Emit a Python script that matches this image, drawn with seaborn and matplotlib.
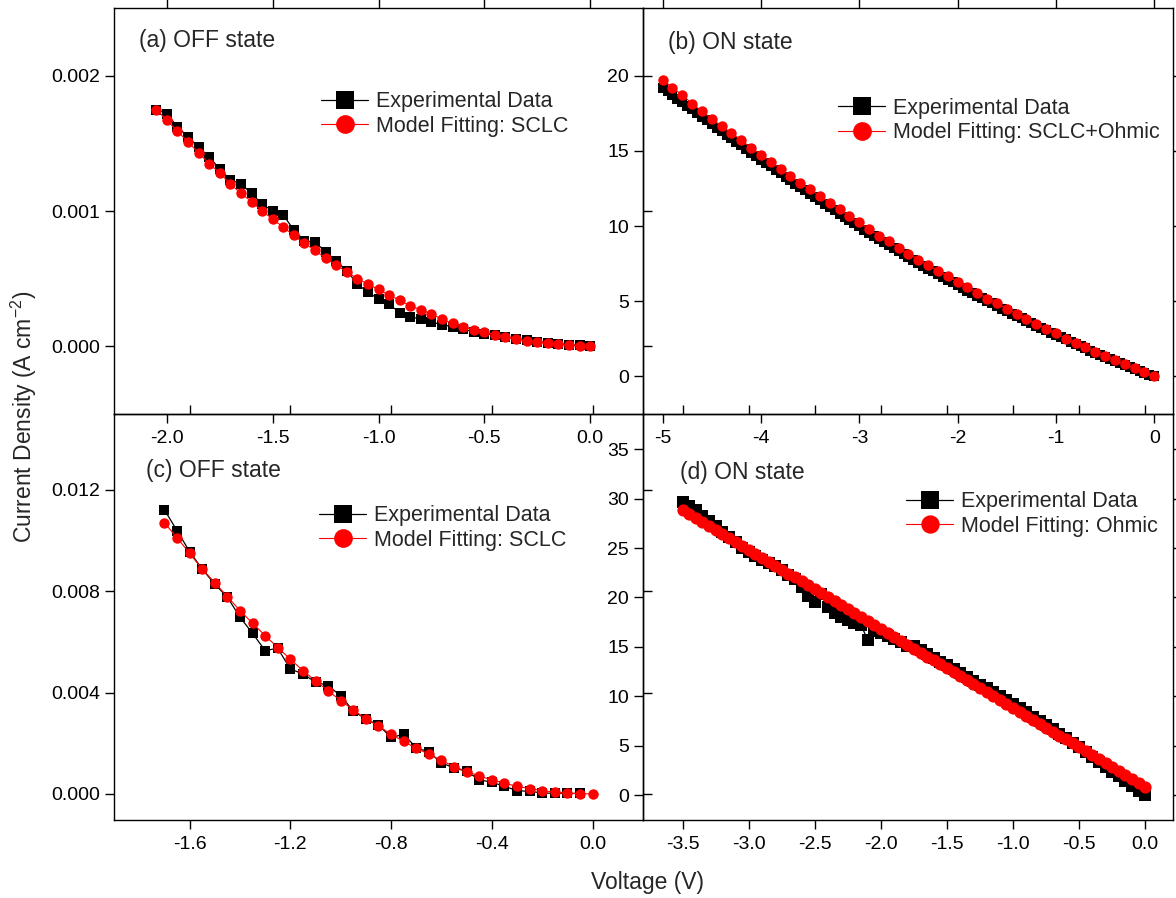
import numpy as np
import pandas as pd
import matplotlib
matplotlib.use("Agg")
import matplotlib.pyplot as plt
import seaborn as sns

# ---------------- data ----------------
a_volt = np.round(np.linspace(-2.05, 0.0, 42), 2)
a_exp = [0.00175, 0.00172, 0.00162, 0.00155, 0.00147, 0.00140, 0.00131, 0.00123, 0.00120, 0.00113,
         0.00105, 0.00100, 0.00097, 0.00086, 0.00078, 0.00077, 0.00070, 0.00063, 0.00056, 0.00046,
         0.00040, 0.00035, 0.00031, 0.00025, 0.00022, 0.00020, 0.00018, 0.00016, 0.000145, 0.000125,
         0.000108, 0.000094, 0.000083, 0.000069, 0.000057, 0.000047, 0.000035, 0.000027, 0.00002,
         0.000012, 0.000007, 0.0]
a_fit = [0.00175, 0.00167, 0.00159, 0.00151, 0.00143, 0.00135, 0.00128, 0.00120, 0.00113, 0.00107,
         0.00100, 0.00094, 0.00088, 0.00082, 0.00076, 0.00071, 0.00065, 0.00060, 0.00055, 0.00050,
         0.00046, 0.00042, 0.00038, 0.00034, 0.00030, 0.00027, 0.00024, 0.00020, 0.00017, 0.000145,
         0.00012, 0.000105, 0.000086, 0.000069, 0.000057, 0.000042, 0.000032, 0.000022, 0.000015,
         0.00001, 0.000005, 0.0]

b_volt_exp = np.round(np.linspace(-5.0, 0.0, 101), 2)
b_exp = [19.20, 18.95, 18.72, 18.48, 18.25, 18.00, 17.76, 17.52, 17.28, 17.04,
         16.80, 16.55, 16.31, 16.07, 15.84, 15.60, 15.36, 15.12, 14.89, 14.65,
         14.42, 14.19, 13.96, 13.73, 13.50, 13.27, 13.04, 12.81, 12.59, 12.37,
         12.15, 11.92, 11.70, 11.48, 11.26, 11.04, 10.82, 10.60, 10.39, 10.18,
         9.97, 9.76, 9.55, 9.34, 9.13, 8.93, 8.73, 8.53, 8.33, 8.13,
         7.93, 7.74, 7.55, 7.36, 7.17, 6.98, 6.79, 6.61, 6.43, 6.25,
         6.07, 5.89, 5.71, 5.53, 5.36, 5.19, 5.02, 4.85, 4.68, 4.51,
         4.35, 4.18, 4.02, 3.86, 3.70, 3.54, 3.38, 3.22, 3.07, 2.91,
         2.76, 2.61, 2.46, 2.31, 2.16, 2.01, 1.87, 1.72, 1.58, 1.44,
         1.30, 1.16, 1.02, 0.88, 0.75, 0.62, 0.49, 0.36, 0.24, 0.12, 0.00]
b_volt_fit = np.round(np.linspace(-5.0, 0.0, 51), 2)
b_fit = [19.73, 19.20, 18.70, 18.14, 17.63, 17.14, 16.63, 16.20, 15.70, 15.20,
         14.75, 14.27, 13.82, 13.31, 12.87, 12.43, 11.98, 11.54, 11.10, 10.65,
         10.25, 9.77, 9.37, 8.99, 8.55, 8.17, 7.77, 7.40, 7.00, 6.67,
         6.29, 5.94, 5.56, 5.18, 4.85, 4.50, 4.17, 3.83, 3.50, 3.17,
         2.86, 2.52, 2.24, 1.95, 1.64, 1.35, 1.08, 0.80, 0.53, 0.29, 0.00]

c_volt_exp = np.round(np.linspace(-1.70, -0.05, 34), 2)
c_exp = [0.01122, 0.01040, 0.00957, 0.00888, 0.00828, 0.00777, 0.00698, 0.00634, 0.00566, 0.00575,
         0.00493, 0.00474, 0.00441, 0.00428, 0.00387, 0.00328, 0.00295, 0.00272, 0.00223, 0.00235,
         0.00182, 0.00166, 0.00122, 0.00103, 0.00089, 0.00056, 0.00046, 0.00030, 0.00013, 0.00010,
         0.00004, 0.00002, 0.00002, 0.00002]
c_volt_fit = np.round(np.linspace(-1.70, 0.0, 35), 2)
c_fit = [0.01071, 0.01012, 0.00950, 0.00888, 0.00834, 0.00779, 0.00724, 0.00674, 0.00625, 0.00578,
         0.00532, 0.00487, 0.00446, 0.00408, 0.00368, 0.00332, 0.00296, 0.00268, 0.00236, 0.00207,
         0.00180, 0.00157, 0.00132, 0.00108, 0.00088, 0.00071, 0.00055, 0.00042, 0.00030, 0.00021,
         0.00013, 0.00007, 0.00003, 0.00001, 0.0]

d_volt = np.round(np.linspace(-3.5, 0.0, 71), 2)
d_exp = [29.7, 29.2, 28.8, 28.2, 27.7, 27.2, 26.6, 26.1, 25.6, 25.0,
         24.6, 24.2, 23.8, 23.5, 23.2, 22.8, 22.3, 21.9, 21.1, 20.1,
         19.5, 20.3, 19.0, 18.4, 18.0, 17.7, 17.4, 17.2, 15.7, 16.6,
         16.4, 16.1, 15.8, 15.5, 15.1, 15.1, 14.7, 14.3, 13.9, 13.5,
         13.2, 12.8, 12.4, 12.0, 11.6, 11.2, 10.8, 10.4, 10.0, 9.6,
         9.2, 8.8, 8.4, 7.9, 7.5, 7.1, 6.7, 6.2, 5.8, 5.3,
         4.9, 4.4, 3.9, 3.4, 2.9, 2.4, 1.9, 1.4, 0.9, 0.45, 0.0]
d_fit = [28.82, 28.42, 28.02, 27.62, 27.22, 26.82, 26.42, 26.02, 25.62, 25.22,
         24.82, 24.42, 24.02, 23.62, 23.22, 22.82, 22.42, 22.02, 21.62, 21.22,
         20.83, 20.43, 20.03, 19.63, 19.23, 18.83, 18.43, 18.03, 17.63, 17.23,
         16.83, 16.43, 16.03, 15.63, 15.23, 14.83, 14.43, 14.03, 13.63, 13.23,
         12.84, 12.44, 12.04, 11.64, 11.24, 10.84, 10.44, 10.04, 9.64, 9.24,
         8.84, 8.44, 8.04, 7.64, 7.24, 6.84, 6.44, 6.04, 5.64, 5.24,
         4.85, 4.45, 4.05, 3.65, 3.25, 2.85, 2.45, 2.05, 1.65, 1.25, 0.85]

titles = ["(a) OFF state", "(b) ON state", "(c) OFF state", "(d) ON state"]
fit_labels = ["Model Fitting: SCLC", "Model Fitting: SCLC+Ohmic",
              "Model Fitting: SCLC", "Model Fitting: Ohmic"]
exp_label = "Experimental Data"

a_xticks = [-2.0, -1.5, -1.0, -0.5, 0.0]
a_yticks = [0.000, 0.001, 0.002]
b_xticks = [-5, -4, -3, -2, -1, 0]
b_yticks = [0, 5, 10, 15, 20]
c_xticks = [-1.6, -1.2, -0.8, -0.4, 0.0]
c_yticks = [0.000, 0.004, 0.008, 0.012]
d_xticks = [-3.5, -3.0, -2.5, -2.0, -1.5, -1.0, -0.5, 0.0]
d_yticks = [0, 5, 10, 15, 20, 25, 30, 35]

# ---------------- style ----------------
sns.set_style("ticks")
plt.rcParams["font.family"] = ["Liberation Sans", "DejaVu Sans"]
plt.rcParams.update({
    "axes.unicode_minus": False,
    "mathtext.fontset": "custom",
    "mathtext.rm": "Liberation Sans",
    "mathtext.default": "regular",
    "axes.linewidth": 1.0,
    "axes.edgecolor": "black",
    "xtick.color": "black", "ytick.color": "black",
    "xtick.direction": "out", "ytick.direction": "out",
    "xtick.major.size": 6.5, "ytick.major.size": 6.5,
    "xtick.major.width": 1.0, "ytick.major.width": 1.0,
    "xtick.labelsize": 14, "ytick.labelsize": 14,
    "xtick.major.pad": 5.0, "ytick.major.pad": 3.5,
})

W, H = 1176, 898
fig = plt.figure(figsize=(W / 100, H / 100), dpi=100, facecolor="white")


def add_axes(x0, x1, y0, y1):
    ax = fig.add_axes([x0 / W, 1 - y1 / H, (x1 - x0) / W, (y1 - y0) / H])
    ax.set_facecolor("none")
    return ax


panels = [
    dict(box=(114, 643, 8, 414), xe=a_volt, ye=a_exp, xf=a_volt, yf=a_fit,
         xlim=(-2.25, 0.25), ylim=(-0.0005, 0.0025), xt=a_xticks, yt=a_yticks,
         xf_fmt="{:.1f}", yf_fmt="{:.3f}", ms=7.5, mscale=1.8,
         title_xy=(139, 41), leg_xy=(321, 114)),
    dict(box=(643, 1173, 8, 414), xe=b_volt_exp, ye=b_exp, xf=b_volt_fit, yf=b_fit,
         xlim=(-5.2, 0.19), ylim=(-2.5, 24.5), xt=b_xticks, yt=b_yticks,
         xf_fmt="{:d}", yf_fmt="{:d}", ms=7.5, mscale=1.8,
         title_xy=(668, 43), leg_xy=(838, 120.5)),
    dict(box=(114, 643, 414, 820), xe=c_volt_exp, ye=c_exp, xf=c_volt_fit, yf=c_fit,
         xlim=(-1.9, 0.2), ylim=(-0.00103, 0.015), xt=c_xticks, yt=c_yticks,
         xf_fmt="{:.1f}", yf_fmt="{:.3f}", ms=7.5, mscale=1.8,
         title_xy=(146, 470), leg_xy=(319, 528)),
    dict(box=(643, 1173, 414, 820), xe=d_volt, ye=d_exp, xf=d_volt, yf=d_fit,
         xlim=(-3.8, 0.21), ylim=(-2.5, 38.55), xt=d_xticks, yt=d_yticks,
         xf_fmt="{:.1f}", yf_fmt="{:d}", ms=8.8, mscale=1.5,
         title_xy=(680, 473), leg_xy=(906, 514)),
]

for i, p in enumerate(panels):
    ax = add_axes(*p["box"])
    df_e = pd.DataFrame({"V": p["xe"], "J": p["ye"]})
    df_f = pd.DataFrame({"V": p["xf"], "J": p["yf"]})
    sns.lineplot(data=df_e, x="V", y="J", ax=ax, estimator=None, sort=False,
                 color="black", linewidth=0.9, marker="s", markersize=p["ms"] * 0.95,
                 markeredgewidth=0, label=exp_label)
    sns.lineplot(data=df_f, x="V", y="J", ax=ax, estimator=None, sort=False,
                 color="#ff0000", linewidth=0.8, marker="o", markersize=p["ms"],
                 markeredgewidth=0, label=fit_labels[i])
    ax.set_xlim(*p["xlim"])
    ax.set_ylim(*p["ylim"])
    ax.set_xticks(p["xt"])
    ax.set_yticks(p["yt"])
    if p["xf_fmt"] == "{:d}":
        ax.set_xticklabels([str(int(v)) for v in p["xt"]])
    else:
        ax.set_xticklabels([p["xf_fmt"].format(v) for v in p["xt"]])
    if p["yf_fmt"] == "{:d}":
        ax.set_yticklabels([str(int(v)) for v in p["yt"]])
    else:
        ax.set_yticklabels([p["yf_fmt"].format(v) for v in p["yt"]])
    ax.tick_params(top=True, right=True, labeltop=False, labelright=False)
    ax.set_xlabel("")
    ax.set_ylabel("")
    for s in ax.spines.values():
        s.set_visible(True)
        s.set_linewidth(1.0)
    handles, labels = ax.get_legend_handles_labels()
    ax.legend(handles, labels, loc="center left",
              bbox_to_anchor=(p["leg_xy"][0] / W, 1 - p["leg_xy"][1] / H),
              bbox_transform=fig.transFigure, frameon=False, fontsize=15.5,
              handlelength=2.2, handletextpad=0.35, labelspacing=0.18,
              borderpad=0, borderaxespad=0, markerscale=p["mscale"])
    tx, ty = p["title_xy"]
    fig.text(tx / W, 1 - ty / H, titles[i], fontsize=16.5, ha="left", va="center")

fig.text(24 / W, 1 - 417 / H, "Current Density (A cm$^{\\mathregular{-2}}$)", rotation=90,
         fontsize=16.5, ha="center", va="center")
fig.text(648 / W, 1 - 883 / H, "Voltage (V)", fontsize=16.5, ha="center", va="center")

fig.savefig("out.png", dpi=100, facecolor="white")
